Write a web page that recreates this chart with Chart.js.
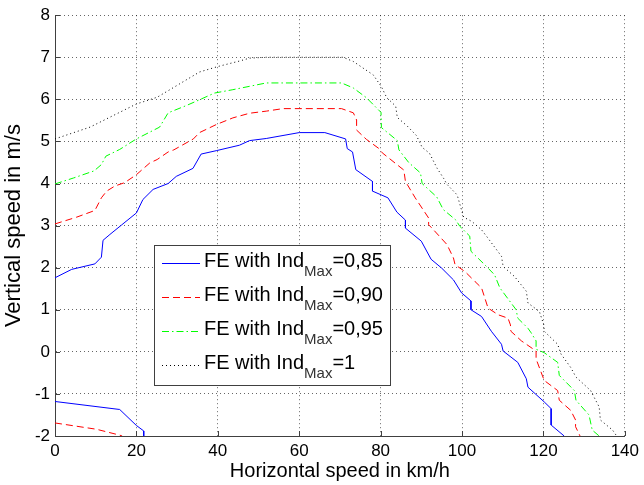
<!DOCTYPE html>
<html>
<head>
<meta charset="utf-8">
<script src="https://cdn.jsdelivr.net/npm/chart.js@4.4.1/dist/chart.umd.min.js"></script>
<style>
  html, body { margin: 0; padding: 0; background: #fff; }
  #wrap { position: relative; width: 644px; height: 485px; }
  canvas { display: block; }
</style>
</head>
<body>
<div id="wrap"><canvas id="c" width="644" height="485"></canvas></div>
<script>
// ---------- data ----------
const xTicks = [0, 20, 40, 60, 80, 100, 120, 140];
const yTicks = [-2, -1, 0, 1, 2, 3, 4, 5, 6, 7, 8];

const seriesNames = ['FE with Ind', 'FE with Ind', 'FE with Ind', 'FE with Ind'];
const seriesSub = ['Max', 'Max', 'Max', 'Max'];
const seriesTail = ['=0,85', '=0,90', '=0,95', '=1'];

// Ind_Max = 0,85 (upper branch)
const fe085 = [
  [0,1.76],[4.1,1.96],[9.8,2.09],[11.4,2.25],[11.8,2.65],[13.5,2.79],[16.3,3.01],
  [20,3.30],[21.6,3.62],[24.1,3.86],[27.8,4.0],[29.8,4.17],[33.9,4.36],[35.9,4.70],
  [39.6,4.78],[45.3,4.91],[47.8,5.02],[51.9,5.07],[60,5.21],[66.3,5.21],[71.4,5.06],
  [71.8,4.83],[73.1,4.75],[73.9,4.33],[78,4.05],[78,3.82],[81.8,3.66],[84,3.32],
  [86.1,3.13],[86.1,2.94],[90,2.63],[92.4,2.2],[95,1.99],[97.9,1.71],[99.9,1.40],
  [102.2,1.21],[102.2,1.0],[104.8,0.84],[107.2,0.49],[109.7,0.18],[110.1,0.02],
  [113.7,-0.25],[115.8,-0.64],[116.2,-0.84],[120.2,-1.19],[121.9,-1.35],[121.9,-1.74],
  [125.1,-2]
];
// Ind_Max = 0,85 (lower branch)
const fe085Low = [[0,-1.18],[15.9,-1.37],[20,-1.75],[21.8,-1.88],[21.8,-2.0]];

// Ind_Max = 0,90
const fe090 = [
  [0,3.04],[5.3,3.2],[9.8,3.36],[11.4,3.66],[12.7,3.82],[14.7,3.94],[17.1,4.02],
  [20,4.21],[23.3,4.49],[25.1,4.57],[27.8,4.75],[29.2,4.8],[34,5.06],[35.5,5.21],
  [39.6,5.4],[43.7,5.56],[47.8,5.67],[51.9,5.72],[56,5.78],[70.4,5.78],[73.3,5.68],
  [74.1,5.51],[74.1,5.27],[76.5,5.05],[79.6,4.83],[80.4,4.73],[85.7,4.32],[86.1,4.05],
  [88.5,3.66],[91.8,3.18],[91.8,3.02],[93,2.9],[96.3,2.55],[97.9,2.23],[98.3,2.07],
  [100.7,1.91],[103.2,1.67],[104.8,1.52],[105.6,1.28],[106.4,1.04],[108.9,0.88],
  [111.3,0.80],[111.9,0.64],[112,0.49],[114.6,0.26],[118.2,0.02],[118.2,-0.17],
  [120.2,-0.68],[123.5,-0.92],[123.9,-1.15],[126.7,-1.39],[127.9,-1.62],[127.9,-1.78],
  [128.7,-1.94],[129,-2]
];
const fe090Low = [[0,-1.69],[10.2,-1.84],[15.9,-1.98],[16.5,-2]];

// Ind_Max = 0,95
const fe095 = [
  [0,3.99],[4.5,4.13],[9.6,4.3],[11.4,4.45],[12.5,4.65],[15.9,4.81],[20,5.06],
  [25.7,5.34],[27.8,5.68],[32.2,5.85],[35.5,5.99],[39.2,6.15],[43.7,6.23],[47.8,6.31],
  [51.9,6.39],[70.4,6.39],[73.3,6.27],[76.5,6.04],[80.1,5.69],[80.2,5.33],[84.1,5.02],
  [84.5,4.8],[86.9,4.5],[89.8,4.25],[90.2,4.0],[93.8,3.68],[95.4,3.38],[98.4,3.14],
  [99.5,2.98],[101.9,2.75],[102.2,2.39],[106,2.03],[108,1.83],[109.3,1.52],[113.3,1.0],
  [113.7,0.8],[116.2,0.56],[117,0.45],[118.2,0.26],[118.2,0.06],[120.2,-0.02],
  [123.5,-0.25],[123.9,-0.56],[127.6,-0.92],[128,-1.15],[131.2,-1.5],[132,-1.86],
  [133.7,-2]
];

// Ind_Max = 1
const fe100 = [
  [0,5.06],[8.6,5.34],[20,5.89],[25.1,6.05],[35.5,6.65],[40,6.78],[45.3,6.91],
  [47.8,6.98],[51.9,7.0],[70.8,7.0],[73.3,6.9],[78.2,6.58],[80.2,6.3],[81.5,6.04],
  [83.7,5.84],[84.1,5.57],[86.5,5.37],[88.8,5.14],[90.2,4.86],[92,4.72],[93.9,4.36],
  [95.5,4.12],[96.3,3.98],[97.6,3.85],[98.8,3.73],[100.4,3.2],[102.4,3.10],[104.8,2.90],
  [106,2.75],[109.7,2.27],[110.1,2.03],[112.9,1.79],[115.8,1.44],[116.2,1.16],[119,0.96],
  [120.1,0.64],[120.2,0.49],[123.5,0.18],[124.3,-0.05],[126.7,-0.37],[128,-0.6],
  [131.6,-0.92],[133.7,-1.31],[134,-1.62],[137,-1.86],[138,-2]
];

// ---------- styles ----------
const FONT = '"Liberation Sans", Arial, Helvetica, sans-serif';
const styles = [
  { color: '#0000ff', dash: [] },
  { color: '#ff0000', dash: [7, 4] },
  { color: '#00ff00', dash: [7, 3, 1.5, 3] },
  { color: '#000000', dash: [1, 3] }
];

const toPts = arr => arr.map(p => ({ x: p[0], y: p[1] }));
function mkDs(arr, s, label) {
  return {
    label: label,
    data: toPts(arr),
    showLine: true,
    borderColor: s.color,
    backgroundColor: s.color,
    borderWidth: 1,
    borderDash: s.dash,
    pointRadius: 0,
    pointHoverRadius: 0,
    fill: false,
    tension: 0
  };
}

const datasets = [
  mkDs(fe085, styles[0], 'a'),
  mkDs(fe090, styles[1], 'b'),
  mkDs(fe095, styles[2], 'c'),
  mkDs(fe100, styles[3], 'd'),
  mkDs(fe085Low, styles[0], 'a2'),
  mkDs(fe090Low, styles[1], 'b2')
];

// inward tick marks (MATLAB style), placed by the scales
const innerTicks = {
  id: 'innerTicks',
  afterDatasetsDraw(chart) {
    const { ctx, chartArea: a, scales } = chart;
    ctx.save();
    ctx.strokeStyle = '#404040';
    ctx.lineWidth = 1;
    ctx.beginPath();
    xTicks.forEach(v => {
      const px = Math.round(scales.x.getPixelForValue(v)) + 0.5;
      ctx.moveTo(px, a.bottom);
      ctx.lineTo(px, a.bottom - 5);
    });
    yTicks.forEach(v => {
      const py = Math.round(scales.y.getPixelForValue(v)) + 0.5;
      ctx.moveTo(a.left, py);
      ctx.lineTo(a.left + 5, py);
    });
    ctx.stroke();
    ctx.restore();
  }
};

// legend with subscript text
const subLegend = {
  id: 'subLegend',
  afterDatasetsDraw(chart) {
    const ctx = chart.ctx;
    const bx = 154, by = 245, bw = 236, bh = 140;
    ctx.save();
    ctx.fillStyle = '#fff';
    ctx.fillRect(bx, by, bw, bh);
    ctx.strokeStyle = '#404040';
    ctx.lineWidth = 1;
    ctx.strokeRect(bx + 0.5, by + 0.5, bw, bh);
    for (let i = 0; i < 4; i++) {
      const ly = Math.round(263 + i * 33.9) + 0.5;
      const s = styles[i];
      ctx.strokeStyle = s.color;
      ctx.setLineDash(s.dash);
      ctx.beginPath();
      ctx.moveTo(162, ly);
      ctx.lineTo(200, ly);
      ctx.stroke();
      ctx.setLineDash([]);
      const base = ly + 3.5;
      ctx.textBaseline = 'alphabetic';
      ctx.textAlign = 'left';
      ctx.fillStyle = '#000';
      ctx.font = '20px ' + FONT;
      ctx.fillText(seriesNames[i], 204, base);
      const w1 = ctx.measureText(seriesNames[i]).width;
      ctx.fillStyle = '#333';
      ctx.font = '15px ' + FONT;
      ctx.fillText(seriesSub[i], 204 + w1, base + 9);
      const w2 = ctx.measureText(seriesSub[i]).width;
      ctx.fillStyle = '#000';
      ctx.font = '20px ' + FONT;
      ctx.fillText(seriesTail[i], 204 + w1 + w2, base);
    }
    ctx.restore();
  }
};

new Chart(document.getElementById('c'), {
  type: 'scatter',
  data: { datasets },
  plugins: [innerTicks, subLegend],
  options: {
    responsive: false,
    animation: false,
    events: [],
    layout: { padding: { top: 13, right: 16, left: 0, bottom: 0 } },
    plugins: { legend: { display: false }, tooltip: { enabled: false } },
    scales: {
      x: {
        type: 'linear', min: 0, max: 140,
        afterBuildTicks(s) { s.ticks = xTicks.map(v => ({ value: v })); },
        ticks: { font: { family: FONT, size: 17 }, color: '#000', padding: 5, maxRotation: 0, autoSkip: false },
        grid: { color: 'rgba(0,0,0,0.6)', lineWidth: 1, drawTicks: false },
        border: { color: '#404040', width: 1, dash: [1, 3] },
        title: { display: true, text: 'Horizontal speed in km/h', color: '#000',
                 font: { family: FONT, size: 20 }, padding: { top: 0, bottom: 2 } },
        afterFit(s) { s.height = 49; }
      },
      y: {
        type: 'linear', min: -2, max: 8,
        afterBuildTicks(s) { s.ticks = yTicks.map(v => ({ value: v })); },
        ticks: { font: { family: FONT, size: 17 }, color: '#000', padding: 5, autoSkip: false },
        grid: { color: 'rgba(0,0,0,0.6)', lineWidth: 1, drawTicks: false },
        border: { color: '#404040', width: 1, dash: [1, 3] },
        title: { display: true, text: 'Vertical speed in m/s', color: '#000',
                 font: { family: FONT, size: 22 }, padding: { top: 1, bottom: 0 } },
        afterFit(s) { s.width = 55; }
      }
    }
  }
});
</script>
</body>
</html>
